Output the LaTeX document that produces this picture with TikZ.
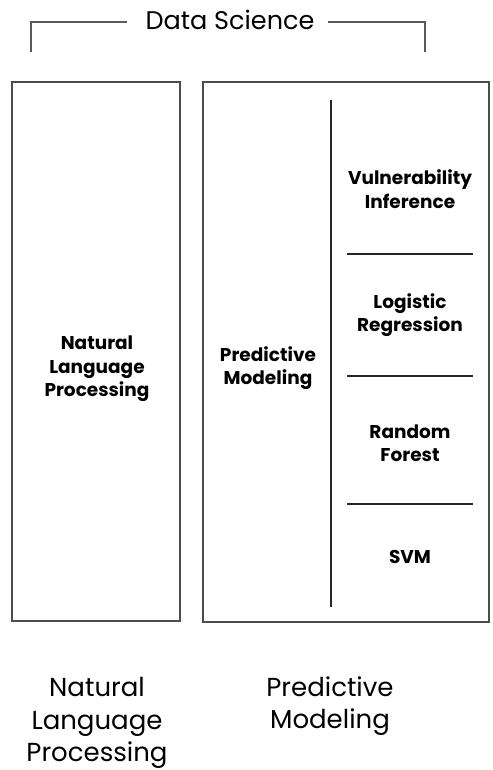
\documentclass[tikz,border=0pt]{standalone}
\usepackage{fontspec}
\setmainfont{Poppins}
\begin{document}
\begin{tikzpicture}[x=1pt, y=-1pt,
	frame/.style={draw=black!70, line width=1.6pt},
	bracket/.style={draw=black!65, line width=1.3pt},
	divider/.style={draw=black!85, line width=1.3pt},
	inlabel/.style={font=\bfseries\fontsize{18.5}{23.5}\selectfont, align=center, inner sep=0pt},
	outlabel/.style={font=\fontsize{26}{32.5}\selectfont, align=center, inner sep=0pt}]
	\useasboundingbox (0, 0) rectangle (492, 770);
	
	% \drawsep#y
	\def\drawsep#1{
		\draw[divider] (347, #1) -- (473, #1);
	}
	
	% title and bracket
	\node[font=\fontsize{25.5}{30}\selectfont, inner sep=0pt] (title) at (230, 20) {Data Science};
	\coordinate (bl) at (31, 52);
	\coordinate (br) at (425, 52);
	\draw[bracket] (title.west) ++(-18, 2) -- (31, 22) -- (bl);
	\draw[bracket] (title.east) ++(13, 2) -- (425, 22) -- (br);
	
	% boxes
	\draw[frame] (12, 82) rectangle (180, 621);
	\draw[frame] (203, 82) rectangle (489, 622);
	\draw[divider] (331, 100) -- (331, 607);
	
	% separators
	\drawsep{254}
	\drawsep{376}
	\drawsep{504}
	
	% labels in boxes
	\node[inlabel] (nlp) at (97, 369) {Natural\\Language\\Processing};
	\node[inlabel] (pm) at (268, 368) {Predictive\\Modeling};
	\node[inlabel] (vi) at (410, 189) {Vulnerability\\Inference};
	\node[inlabel] (lr) at (410, 315) {Logistic\\Regression};
	\node[inlabel] (rf) at (410, 443) {Random\\Forest};
	\node[inlabel] (svm) at (410, 557) {SVM};
	
	% labels below
	\node[outlabel] (nlpout) at (97, 723) {Natural\\Language\\Processing};
	\node[outlabel] (pmout) at (330, 706) {Predictive\\Modeling};
\end{tikzpicture}
\end{document}
